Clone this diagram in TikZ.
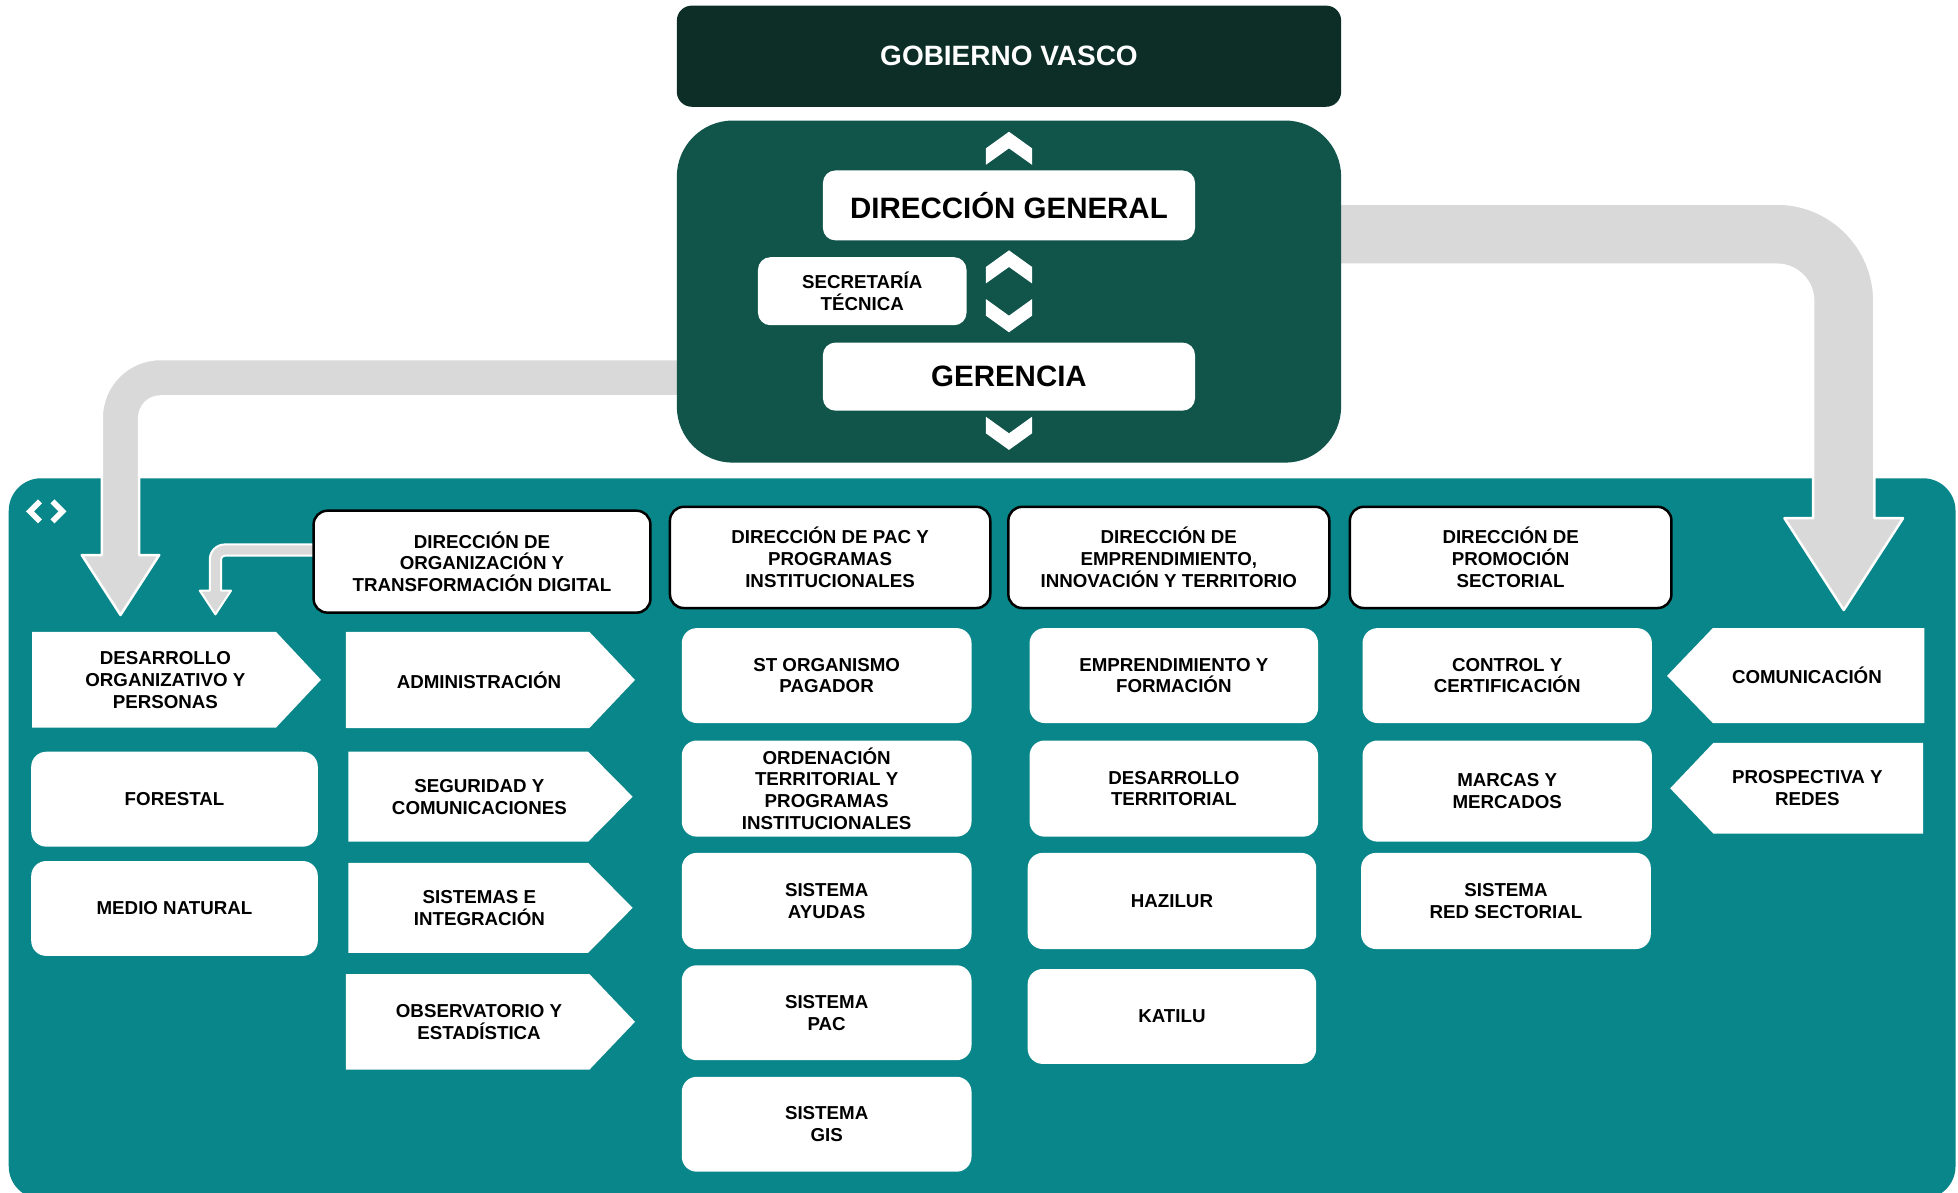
\documentclass[tikz,border=0pt]{standalone}
\usepackage{fontspec}
\setmainfont{Liberation Sans}
\definecolor{tealpanel}{RGB}{9,134,138}
\definecolor{coregreen}{RGB}{16,84,74}
\definecolor{gvgreen}{RGB}{12,46,39}
\definecolor{arrowgray}{RGB}{217,217,217}
\begin{document}
\begin{tikzpicture}[x=1pt,y=-1pt,
  txt/.style={font=\bfseries\fontsize{15}{17.5}\selectfont, align=center, text=black, inner sep=0pt},
  subbox/.style={txt, fill=white, rounded corners=12pt, minimum width=231pt, minimum height=76pt},
  hdbox/.style={txt, fill=white, draw=black, line width=2pt, rounded corners=11pt, minimum height=81pt},
  pentbox/.style={fill=white},
  chevshape/.style={fill=white},
  grayarr/.style={fill=arrowgray, draw=white, line width=2pt, line join=round},
  bigbox/.style={fill=white, rounded corners=10pt, inner sep=0pt, align=center, text=black}
]
\useasboundingbox (0,0) rectangle (1568,955);
\fill[white] (0,0) rectangle (1568,955);
\clip (0,0) rectangle (1568,955);

% teal panel
\node[fill=tealpanel, rounded corners=26pt, minimum width=1559pt, minimum height=577pt, inner sep=0pt] (panel) at (786.5,671.5) {};

% <> icon
\draw[white, line width=4.5pt] (32,401.5) -- (24,409.5) -- (32,417.5);
\draw[white, line width=4.5pt] (42,401.5) -- (50,409.5) -- (42,417.5);

% gray arrows
\path[grayarr] (560,287.5) -- (128.5,287.5) .. controls (102.5,287.5) and (81.5,308.5) .. (81.5,334.5)
  -- (81.5,444.5) -- (65.5,444.5) -- (96.5,492.5) -- (127.5,444.5) -- (111.5,444.5) -- (111.5,334.5)
  .. controls (111.5,325.1) and (119.1,317.5) .. (128.5,317.5) -- (560,317.5) -- cycle;
\path[grayarr] (1050,163) -- (1423,163) .. controls (1466,163) and (1501,198) .. (1501,241)
  -- (1501,415) -- (1524,415) -- (1476.5,488.5) -- (1429,415) -- (1452,415) -- (1452,241)
  .. controls (1452,225) and (1439,212) .. (1423,212) -- (1050,212) -- cycle;
\path[grayarr, line width=1.6pt] (270,436) -- (180,436) .. controls (173.4,436) and (168,441.4) .. (168,448)
  -- (168,473) -- (160,473) -- (172.5,492) -- (185,473) -- (177,473) -- (177,448)
  .. controls (177,446.3) and (178.3,445) .. (180,445) -- (270,445) -- cycle;

% top block
\node[fill=gvgreen, rounded corners=12pt, minimum width=532pt, minimum height=81pt, inner sep=0pt,
  text=white, font=\bfseries\fontsize{22.4}{26}\selectfont] (gv) at (808,45) {GOBIERNO VASCO};
\node[fill=coregreen, rounded corners=45pt, minimum width=532pt, minimum height=274pt, inner sep=0pt] (core) at (808,233.5) {};
\node[bigbox, minimum width=298pt, minimum height=56pt, font=\bfseries\fontsize{23.6}{28}\selectfont] (dg) at (808,164.5) {DIRECCIÓN GENERAL};
\node[bigbox, minimum width=298pt, minimum height=54.5pt, font=\bfseries\fontsize{23.6}{28}\selectfont] (ger) at (808,301.6) {GERENCIA};
\node[bigbox, minimum width=167pt, minimum height=54.5pt, font=\bfseries\fontsize{15}{18}\selectfont] (st) at (690.5,233.2) {SECRETARÍA\\TÉCNICA};

% chevrons
\fill[chevshape] (808,105.5) -- (826.5,118.8) -- (826.5,132) -- (808,118.8) -- (789.5,132) -- (789.5,118.8) -- cycle;
\fill[chevshape] (808,200.5) -- (826.5,213.8) -- (826.5,227) -- (808,213.8) -- (789.5,227) -- (789.5,213.8) -- cycle;
\fill[chevshape] (789.5,239.5) -- (808,252.8) -- (826.5,239.5) -- (826.5,252.8) -- (808,266.1) -- (789.5,252.8) -- cycle;
\fill[chevshape] (789.5,333.7) -- (808,347) -- (826.5,333.7) -- (826.5,347) -- (808,360.3) -- (789.5,347) -- cycle;

% headers
\node[hdbox, minimum width=269.7pt, minimum height=81.6pt] (h1) at (386,449.8) {DIRECCIÓN DE\\ORGANIZACIÓN Y\\TRANSFORMACIÓN DIGITAL};
\node[hdbox, minimum width=256.5pt] (h2) at (664.75,446.4) {DIRECCIÓN DE PAC Y\\PROGRAMAS\\INSTITUCIONALES};
\node[hdbox, minimum width=257pt] (h3) at (936,446.4) {DIRECCIÓN DE\\EMPRENDIMIENTO,\\INNOVACIÓN Y TERRITORIO};
\node[hdbox, minimum width=257.5pt] (h4) at (1209.75,446.4) {DIRECCIÓN DE\\PROMOCIÓN\\SECTORIAL};

% column 1
\path[pentbox] (25.7,506) -- (221,506) -- (257,544.4) -- (221,582.7) -- (25.7,582.7) -- cycle;
\node[txt] (dop) at (132.4,544.4) {DESARROLLO\\ORGANIZATIVO Y\\PERSONAS};
\node[subbox, minimum width=229.5pt] (for) at (139.75,640) {FORESTAL};
\node[subbox, minimum width=229.5pt] (mn) at (139.75,727.5) {MEDIO NATURAL};

% column 2 (pentagons)
\path[pentbox] (277,506) -- (472,506) -- (508.5,544.5) -- (472,583) -- (277,583) -- cycle;
\node[txt] (adm) at (383.6,544.5) {ADMINISTRACIÓN};
\path[pentbox] (279,602) -- (471,602) -- (506.6,638) -- (471,674) -- (279,674) -- cycle;
\node[txt] (seg) at (383.9,638) {SEGURIDAD Y\\COMUNICACIONES};
\path[pentbox] (279,691) -- (471,691) -- (506.6,727) -- (471,763) -- (279,763) -- cycle;
\node[txt] (sis) at (383.9,727) {SISTEMAS E\\INTEGRACIÓN};
\path[pentbox] (277,780) -- (472,780) -- (508.5,818.3) -- (472,856.6) -- (277,856.6) -- cycle;
\node[txt] (obs) at (383.6,818.3) {OBSERVATORIO Y\\ESTADÍSTICA};

% column 3
\node[subbox, minimum width=232pt] (stop) at (662,541) {ST ORGANISMO\\PAGADOR};
\node[subbox, minimum width=232pt, minimum height=77pt] (ord) at (662,631.5) {ORDENACIÓN\\TERRITORIAL Y\\PROGRAMAS\\INSTITUCIONALES};
\node[subbox, minimum width=232pt, minimum height=77pt] (ayu) at (662,721.5) {SISTEMA\\AYUDAS};
\node[subbox, minimum width=232pt] (pac) at (662,811) {SISTEMA\\PAC};
\node[subbox, minimum width=232pt] (gis) at (662,900.3) {SISTEMA\\GIS};

% column 4
\node[subbox] (emp) at (940,541) {EMPRENDIMIENTO Y\\FORMACIÓN};
\node[subbox, minimum height=77pt] (dter) at (940,631.5) {DESARROLLO\\TERRITORIAL};
\node[subbox, minimum height=77pt] (haz) at (938.5,721.5) {HAZILUR};
\node[subbox] (kat) at (938.5,814) {KATILU};

% column 5
\node[subbox, minimum width=231.7pt] (ctrl) at (1207,541) {CONTROL Y\\CERTIFICACIÓN};
\node[subbox, minimum width=231.7pt, minimum height=81pt] (mar) at (1207,633.5) {MARCAS Y\\MERCADOS};
\node[subbox, minimum width=232pt, minimum height=77pt] (red) at (1206,721.5) {SISTEMA\\RED SECTORIAL};

% column 6 (left-pointing pentagons)
\path[pentbox] (1541,503) -- (1371.6,503) -- (1335,541.2) -- (1371.6,579) -- (1541,579) -- cycle;
\node[txt] (com) at (1447,541) {COMUNICACIÓN};
\path[pentbox] (1540,595) -- (1372,595) -- (1337.5,631.3) -- (1372,667.5) -- (1540,667.5) -- cycle;
\node[txt] (pro) at (1447.4,631.3) {PROSPECTIVA Y\\REDES};
\end{tikzpicture}
\end{document}
